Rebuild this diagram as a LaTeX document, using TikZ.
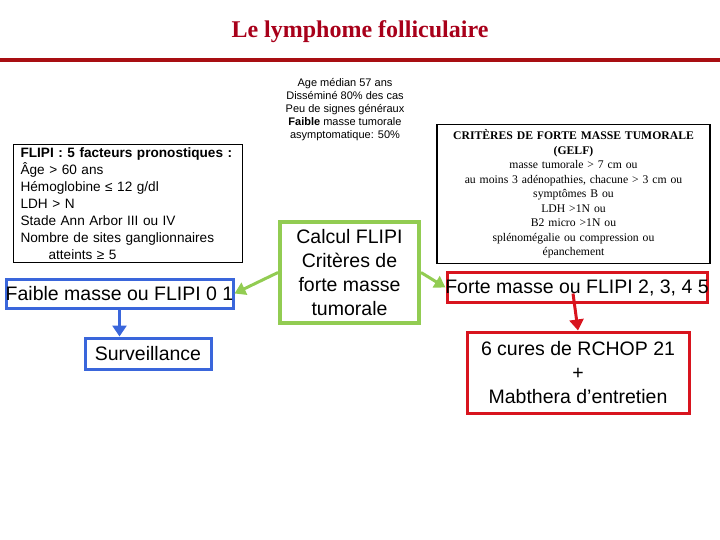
\documentclass[tikz,border=0pt]{standalone}
\usepackage{fontspec}
\setmainfont{Liberation Sans}
\newfontfamily\serifx{Liberation Serif}
\usepackage{tikz}
\usetikzlibrary{arrows.meta}
\definecolor{titlered}{HTML}{A8001A}
\definecolor{rulered}{HTML}{A80E12}
\definecolor{greenx}{HTML}{92CC52}
\definecolor{bluex}{HTML}{3A66DB}
\definecolor{redx}{HTML}{D8141E}
\tikzset{
  kbox/.style={draw=black,line width=1.2pt,inner sep=0pt},
  gbox/.style={draw=greenx,line width=4pt,align=center,inner sep=0pt,font=\fontsize{19.5}{24}\selectfont},
  bbox/.style={draw=bluex,line width=3pt,inner sep=0pt,font=\fontsize{19.5}{22}\selectfont},
  rbox/.style={draw=redx,line width=3pt,inner sep=0pt,align=center,font=\fontsize{19.5}{24}\selectfont},
  garr/.style={-{Triangle[length=11pt,width=13pt]},line width=3pt,greenx},
  barr/.style={-{Triangle[length=11pt,width=14pt]},line width=3pt,bluex},
  rarr/.style={-{Triangle[length=11pt,width=14pt]},line width=3pt,redx}
}

\begin{document}
\begin{tikzpicture}[x=1pt,y=-1pt]
\useasboundingbox (0,0) rectangle (720,540);
\node[font=\serifx\bfseries\fontsize{24}{26}\selectfont,text=titlered] (title) at (360,32) {Le lymphome folliculaire};
\draw[rulered,line width=3.5pt] (0,60) -- (720,60);
% left: FLIPI factors
\node[kbox,anchor=north west,minimum width=229pt,minimum height=118pt,text width=215pt,align=left,inner xsep=7pt,inner ysep=1pt,font=\fontsize{13.6}{17}\selectfont] (flipi) at (13,144)
  {\textbf{FLIPI : 5 facteurs pronostiques :}\\
   Âge > 60 ans\\
   Hémoglobine ≤ 12 g/dl\\
   LDH > N\\
   Stade Ann Arbor III ou IV\\
   Nombre de sites ganglionnaires\\
   \hspace*{28pt}atteints ≥ 5};
% middle text
\node[align=center,font=\fontsize{11}{13}\selectfont] (epid) at (345,110)
  {Age médian 57 ans\\ Disséminé 80\% des cas\\ Peu de signes généraux\\ \textbf{Faible} masse tumorale\\ asymptomatique: 50\%};
% right: GELF criteria
\node[kbox,anchor=north,minimum width=273pt,minimum height=139pt,text width=268pt,align=center,inner ysep=3pt,font=\serifx\fontsize{11.7}{14.5}\selectfont] (gelf) at (573.5,124)
  {\textbf{CRITÈRES DE FORTE MASSE TUMORALE}\\ \textbf{(GELF)}\\
   masse tumorale > 7 cm ou\\
   au moins 3 adénopathies, chacune > 3 cm ou\\
   symptômes B ou\\
   LDH >1N ou\\
   B2 micro >1N ou\\
   splénomégalie ou compression ou\\
   épanchement};
% decision
\node[gbox,minimum width=139pt,minimum height=101pt] (calc) at (349.5,272.5)
  {Calcul FLIPI\\ Critères de\\ forte masse\\ tumorale};
\node[bbox,minimum width=227pt,minimum height=29pt] (faible) at (119.5,293.5)
  {\makebox[0pt]{Faible masse ou FLIPI 0 1}};
\node[bbox,minimum width=126pt,minimum height=31pt] (surv) at (148,353.5) {Surveillance};
\node[rbox,minimum width=260pt,minimum height=30pt] (forte) at (577,287.5)
  {\makebox[0pt]{Forte masse ou FLIPI 2, 3, 4 5}};
\node[rbox,minimum width=222pt,minimum height=81pt] (rchop) at (578,372.5)
  {6 cures de RCHOP 21\\ +\\ Mabthera d’entretien};
\draw[garr] (calc.west) -- (faible.east);
\draw[garr] (calc.east) -- (forte.west);
\draw[barr] (faible.south) -- (faible.south |- surv.north);
\draw[rarr] ([xshift=-4pt,yshift=-6pt]forte.center) -- (rchop.north);
\end{tikzpicture}
\end{document}
